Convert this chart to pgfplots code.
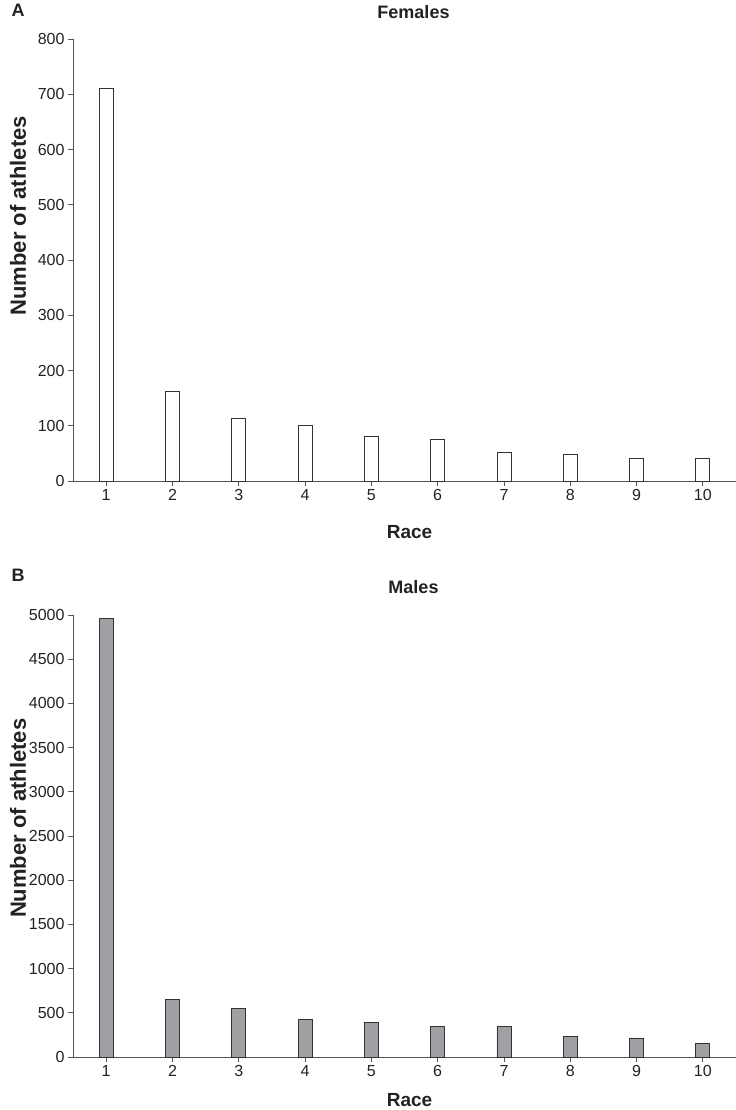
\documentclass[border=0pt]{standalone}
\usepackage{fontspec}
\setmainfont{Liberation Sans}
\usepackage{pgfplots}
\pgfplotsset{compat=1.18}
\definecolor{axgray}{HTML}{555555}
\definecolor{txt}{HTML}{222222}
\definecolor{barB}{HTML}{A0A0A4}
\definecolor{edge}{HTML}{333333}
\pgfplotsset{
  panel/.style={
    scale only axis, width=663bp, height=442bp,
    xmin=0.5, xmax=10.5, ymin=0,
    axis x line*=bottom, axis y line*=left,
    axis line style={-, draw=axgray, line width=0.8bp},
    tick align=outside, major tick length=5bp,
    tick style={draw=axgray, line width=0.8bp},
    xtick={1,2,3,4,5,6,7,8,9,10},
    /pgf/number format/assume math mode=true,
    /pgf/number format/1000 sep={},
    tick label style={font=\fontsize{16bp}{19bp}\selectfont, text=txt},
    ybar, bar width=14bp,
    ylabel={\textbf{Number of athletes}},
    xlabel={\textbf{Race}},
    ylabel style={font=\fontsize{22bp}{26bp}\selectfont, text=txt, at={(axis description cs:0,0.6)}, anchor=center, yshift=55bp},
    title style={font=\fontsize{18bp}{22bp}\selectfont\bfseries, text=txt, at={(axis description cs:0.5,1)}, anchor=center, xshift=9bp},
    clip=false,
  }
}
\begin{document}
\begin{tikzpicture}
\begin{axis}[panel, at={(0,576bp)}, anchor=south west,
  ymax=800, ytick={0,100,...,800},
  title={Females}, title style={yshift=21bp},
  xlabel style={font=\fontsize{19bp}{22bp}\selectfont, text=txt, at={(axis description cs:0.5,0)}, anchor=center, yshift=-51bp, xshift=5bp}]
\addplot[fill=white, draw=edge, line width=0.8bp] coordinates {
(1,710) (2,163) (3,114) (4,101) (5,80) (6,76) (7,51) (8,48) (9,40) (10,40)};
\node[font=\fontsize{18bp}{22bp}\selectfont\bfseries, text=txt, anchor=center] at ([xshift=-55bp,yshift=29bp]rel axis cs:0,1) {A};
\end{axis}
\begin{axis}[panel, at={(0,0)}, anchor=south west,
  ymax=5000, ytick={0,500,...,5000},
  title={Males}, title style={yshift=22bp},
  ylabel style={at={(axis description cs:0,0.54)}},
  xlabel style={font=\fontsize{19bp}{22bp}\selectfont, text=txt, at={(axis description cs:0.5,0)}, anchor=center, yshift=-43bp, xshift=5bp}]
\addplot[fill=barB, draw=edge, line width=0.8bp] coordinates {
(1,4963) (2,656) (3,551) (4,426) (5,392) (6,347) (7,347) (8,230) (9,215) (10,155)};
\node[font=\fontsize{18bp}{22bp}\selectfont\bfseries, text=txt, anchor=center] at ([xshift=-55bp,yshift=40bp]rel axis cs:0,1) {B};
\end{axis}
\pgfresetboundingbox
\useasboundingbox (-73bp,-53bp) rectangle (663bp,1057bp);
\end{tikzpicture}
\end{document}
